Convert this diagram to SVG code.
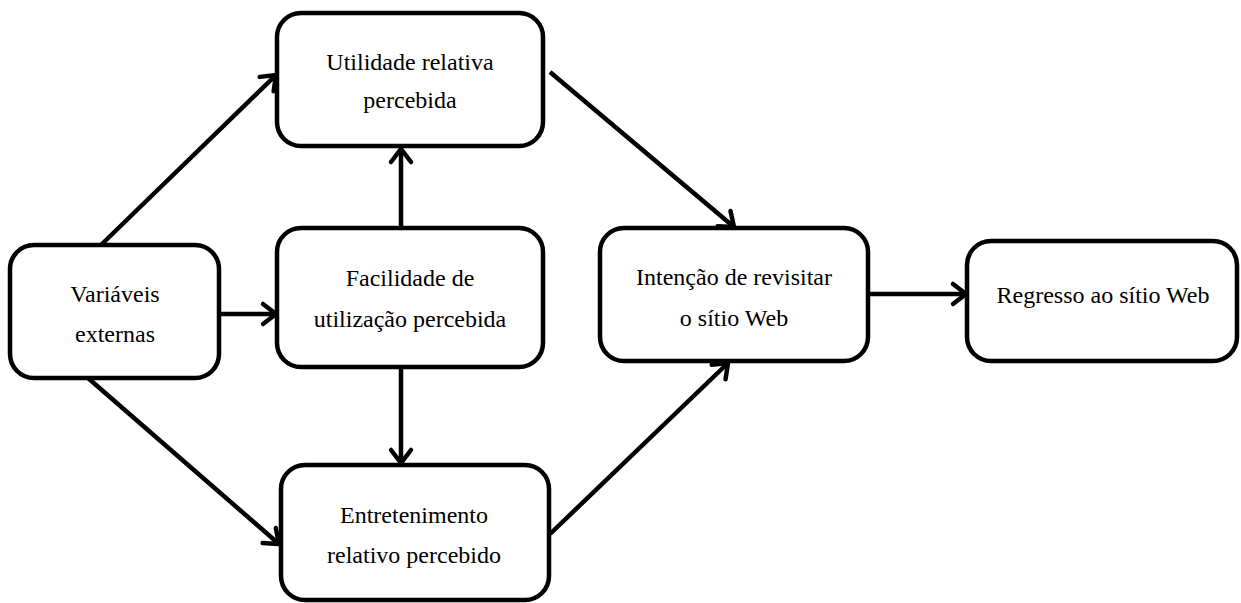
<svg xmlns="http://www.w3.org/2000/svg" width="1241" height="603" viewBox="0 0 1241 603">
<style>
.box{fill:#fff;stroke:#000;stroke-width:4.5}
.lbl{font-family:"Liberation Serif","Times New Roman",serif;font-size:24px;fill:#000;text-anchor:middle}
.con{stroke:#000;stroke-width:4.5;fill:none;marker-end:url(#arr)}
</style>
<defs>
<marker id="arr" markerUnits="userSpaceOnUse" viewBox="-20 -14 26 28" markerWidth="26" markerHeight="28" refX="0" refY="0" orient="auto">
<path d="M-13,-10 L0,0 L-13,10" fill="none" stroke="#000" stroke-width="4.5" stroke-linecap="round" stroke-linejoin="miter"/>
</marker>
</defs>
<rect width="1241" height="603" fill="#fff"/>
<g id="connectors">
<line class="con" x1="101" y1="245" x2="276" y2="75"/>
<line class="con" x1="219" y1="314" x2="276" y2="314"/>
<line class="con" x1="88" y1="378" x2="279" y2="544"/>
<line class="con" x1="401" y1="228" x2="401" y2="149"/>
<line class="con" x1="401" y1="367" x2="401" y2="463"/>
<line class="con" x1="550" y1="72" x2="734" y2="227"/>
<line class="con" x1="550" y1="534" x2="728" y2="363"/>
<line class="con" x1="868" y1="294" x2="966" y2="294"/>
</g>
<g id="n-utilidade">
<rect class="box" x="277" y="13" width="266" height="133" rx="24"/>
<text class="lbl" x="410" y="70">Utilidade relativa</text>
<text class="lbl" x="410" y="108">percebida</text>
</g>
<g id="n-facilidade">
<rect class="box" x="277" y="228" width="266" height="139" rx="24"/>
<text class="lbl" x="410" y="286">Facilidade de</text>
<text class="lbl" x="410" y="327">utilização percebida</text>
</g>
<g id="n-variaveis">
<rect class="box" x="10" y="245" width="209" height="133" rx="24"/>
<text class="lbl" x="115" y="302">Variáveis</text>
<text class="lbl" x="115" y="342">externas</text>
</g>
<g id="n-entretenimento">
<rect class="box" x="281" y="465" width="268" height="135" rx="24"/>
<text class="lbl" x="414" y="523">Entretenimento</text>
<text class="lbl" x="414" y="563">relativo percebido</text>
</g>
<g id="n-intencao">
<rect class="box" x="600" y="228" width="268" height="133" rx="24"/>
<text class="lbl" x="734" y="285">Intenção de revisitar</text>
<text class="lbl" x="734" y="326">o sítio Web</text>
</g>
<g id="n-regresso">
<rect class="box" x="967" y="241" width="270" height="120" rx="24"/>
<text class="lbl" x="1103" y="303">Regresso ao sítio Web</text>
</g>
</svg>
